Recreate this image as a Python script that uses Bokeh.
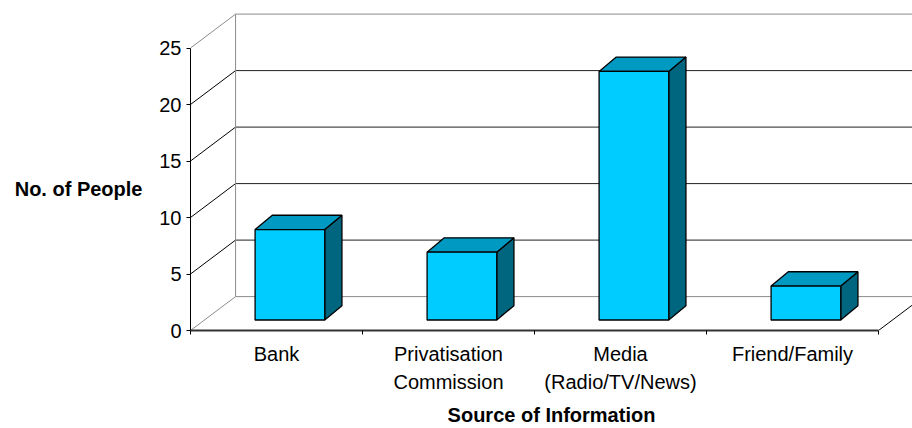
from bokeh.plotting import figure
from bokeh.models import Range1d, LinearAxis, FixedTicker
from bokeh.embed import file_html
from bokeh.resources import INLINE

# ---- data ----
categories = ["Bank", "Privatisation Commission", "Media (Radio/TV/News)", "Friend/Family"]
label_line1 = ["Bank", "Privatisation", "Media", "Friend/Family"]
label_line2 = ["", "Commission", "(Radio/TV/News)", ""]
values = [8, 6, 22, 3]
y_ticks = [0, 5, 10, 15, 20, 25]
y_max = 25
y_title = "No. of People"
x_title = "Source of Information"

# ---- 3D projection constants (data units) ----
DEPTH_X, DEPTH_Y = 0.262, 3.0      # full depth of the floor / walls
BAR_X0, BAR_Y0 = 0.078, 0.93       # offset of bar front faces
BAR_DX, BAR_DY = 0.10, 1.27        # bar depth
BAR_W = 0.405

FONT = "Liberation Sans"
FS = "20px"
n = len(categories)
x_end = (912 - 190) / 172.0
y_end = 330 / 11.3

p = figure(width=912, height=428, x_range=Range1d(0, x_end), y_range=Range1d(0, y_end),
           output_backend="svg", toolbar_location=None,
           min_border_left=190, min_border_right=0, min_border_top=0, min_border_bottom=98)
p.outline_line_color = None
p.xgrid.visible = False
p.ygrid.visible = False
p.background_fill_color = "white"
p.border_fill_color = "white"

# ---- walls and floor ----
grid_levels = [t for t in y_ticks if 0 < t < y_max]
p.segment(x0=[DEPTH_X] * len(grid_levels), y0=[t + DEPTH_Y for t in grid_levels],
          x1=[n + DEPTH_X] * len(grid_levels), y1=[t + DEPTH_Y for t in grid_levels],
          line_color="#202020", line_width=1)
p.segment(x0=[0] * len(grid_levels), y0=grid_levels,
          x1=[DEPTH_X] * len(grid_levels), y1=[t + DEPTH_Y for t in grid_levels],
          line_color="black", line_width=1)
p.segment(x0=[0, 0, DEPTH_X, DEPTH_X, DEPTH_X],
          y0=[0, y_max, DEPTH_Y, DEPTH_Y, y_max + DEPTH_Y],
          x1=[DEPTH_X, DEPTH_X, DEPTH_X, n + DEPTH_X, n + DEPTH_X],
          y1=[DEPTH_Y, y_max + DEPTH_Y, y_max + DEPTH_Y, DEPTH_Y, y_max + DEPTH_Y],
          line_color="#8c8c8c", line_width=1)
p.segment(x0=[n], y0=[0], x1=[n + DEPTH_X], y1=[DEPTH_Y], line_color="black", line_width=1)

# ---- bars ----
front_xs, front_ys, top_xs, top_ys, side_xs, side_ys = [], [], [], [], [], []
for i, v in enumerate(values):
    x0 = i + 0.5 - BAR_W / 2 + BAR_X0
    x1 = x0 + BAR_W
    y0 = BAR_Y0
    y1 = v + BAR_Y0
    front_xs.append([x0, x1, x1, x0]); front_ys.append([y0, y0, y1, y1])
    top_xs.append([x0, x1, x1 + BAR_DX, x0 + BAR_DX]); top_ys.append([y1, y1, y1 + BAR_DY, y1 + BAR_DY])
    side_xs.append([x1, x1 + BAR_DX, x1 + BAR_DX, x1]); side_ys.append([y0, y0 + BAR_DY, y1 + BAR_DY, y1])

p.patches(side_xs, side_ys, fill_color="#00667f", line_color="black", line_width=1.3)
p.patches(top_xs, top_ys, fill_color="#0099c2", line_color="black", line_width=1.3)
p.patches(front_xs, front_ys, fill_color="#00ccff", line_color="black", line_width=1.3)

# ---- y axis ----
ya = p.yaxis[0]
ya.ticker = FixedTicker(ticks=y_ticks)
ya.bounds = (0, y_max)
ya.axis_line_color = "black"
ya.major_tick_in = 0
ya.major_tick_out = 4
ya.minor_tick_line_color = None
ya.major_label_text_font = FONT
ya.major_label_text_font_size = FS
ya.major_label_text_color = "black"
ya.major_label_standoff = 5

# horizontal y title: outer left axis with a single labelled tick at mid-height
yt = LinearAxis(ticker=FixedTicker(ticks=[y_max / 2], minor_ticks=[]))
yt.major_label_overrides = {y_max / 2: y_title}
yt.axis_line_color = None
yt.major_tick_line_color = None
yt.minor_tick_line_color = None
yt.major_label_text_font = FONT
yt.major_label_text_font_size = FS
yt.major_label_text_font_style = "bold"
yt.major_label_text_color = "black"
yt.major_label_standoff = 8
p.add_layout(yt, "left")

# ---- x axis (two rows of labels) ----
centers = [i + 0.5 for i in range(n)]
xa = p.xaxis[0]
xa.ticker = FixedTicker(ticks=centers, minor_ticks=list(range(n + 1)))
xa.bounds = (0, n)
xa.axis_line_color = "#333333"
xa.axis_line_width = 2
xa.major_tick_line_color = None
xa.minor_tick_in = 0
xa.minor_tick_out = 4
xa.minor_tick_line_color = "black"
xa.major_label_overrides = {c: t for c, t in zip(centers, label_line1)}
xa.major_label_text_font = FONT
xa.major_label_text_font_size = FS
xa.major_label_text_color = "black"
xa.major_label_standoff = 6

xb = LinearAxis(ticker=FixedTicker(ticks=centers, minor_ticks=[]))
xb.major_label_overrides = {c: t for c, t in zip(centers, label_line2)}
xb.axis_line_color = None
xb.major_tick_line_color = None
xb.minor_tick_line_color = None
xb.major_label_text_font = FONT
xb.major_label_text_font_size = FS
xb.major_label_text_color = "black"
xb.major_label_standoff = -3
xb.axis_label = x_title
xb.axis_label_text_font = FONT
xb.axis_label_text_font_size = FS
xb.axis_label_text_font_style = "bold"
xb.axis_label_text_color = "black"
xb.axis_label_standoff = 8
p.add_layout(xb, "below")

open("out.html", "w").write(file_html(p, INLINE))
